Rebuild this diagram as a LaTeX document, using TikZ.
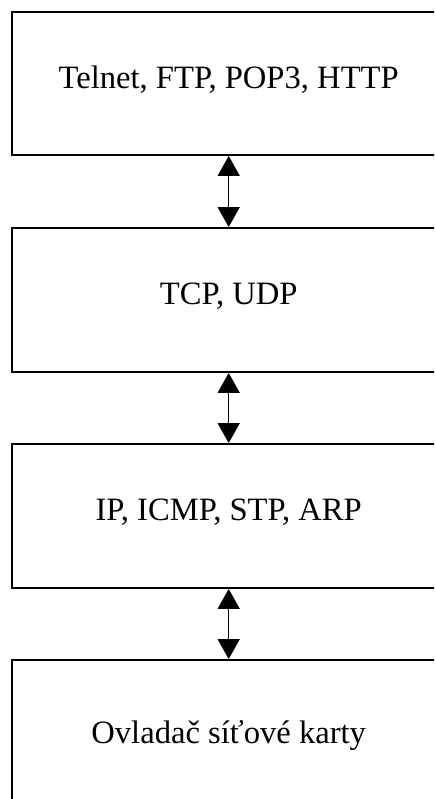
\documentclass[tikz,border=0pt]{standalone}
\usepackage{fontspec}
\setmainfont{Liberation Serif}
\usetikzlibrary{arrows.meta,calc}
\begin{document}
\begin{tikzpicture}[x=1pt,y=-1pt,
  layerbox/.style={draw=black, line width=1.8pt, minimum width=434pt, inner sep=0pt},
  layertext/.style={anchor=base, inner sep=0pt, font=\fontsize{32.6}{38}\selectfont},
  link/.style={line width=1.2pt, {Triangle[width=22pt,length=20pt]}-{Triangle[width=22pt,length=20pt]}}]
  \clip (0,0) rectangle (434,799);
  \fill[white] (0,0) rectangle (434,799);
  % protocol layers, top to bottom
  \node[layerbox, minimum height=143pt] (app) at (228.7,83.5) {};
  \node[layerbox, minimum height=144pt] (trans) at (228.7,300) {};
  \node[layerbox, minimum height=144pt] (net) at (228.7,516) {};
  \node[layerbox, minimum height=200pt] (drv) at (228.7,760) {};
  \node[layertext] (appt) at ($(app.north)+(0,77)$) {Telnet, FTP, POP3, HTTP};
  \node[layertext] (transt) at ($(trans.north)+(0,77)$) {TCP, UDP};
  \node[layertext] (nett) at ($(net.north)+(0,77)$) {IP, ICMP, STP, ARP};
  \node[layertext] (drvt) at ($(drv.north)+(0,84)$) {Ovladač síťové karty};
  % links between neighbouring layers
  \draw[link] (app.south) -- (trans.north);
  \draw[link] (trans.south) -- (net.north);
  \draw[link] (net.south) -- (drv.north);
\end{tikzpicture}
\end{document}
